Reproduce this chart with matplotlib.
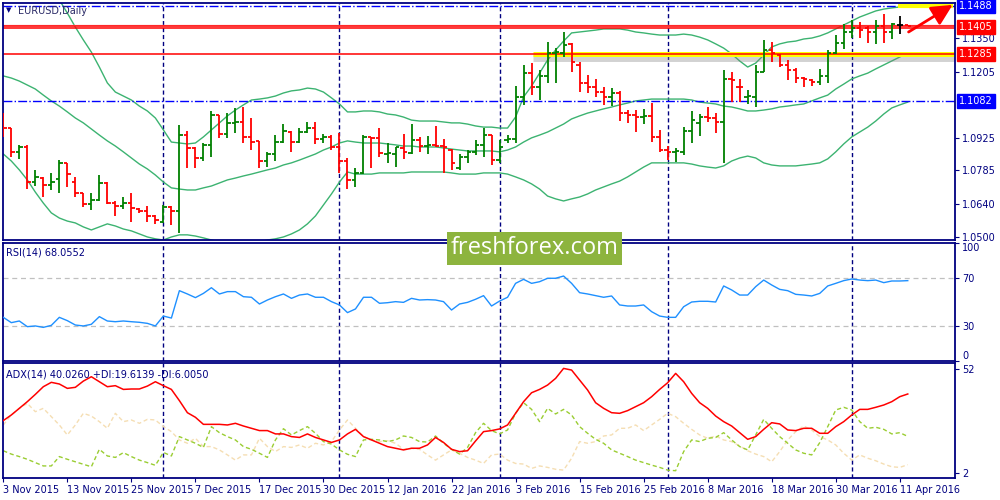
import matplotlib
matplotlib.use('Agg')
import matplotlib.pyplot as plt
import matplotlib.patches as patches
import matplotlib.transforms as mtransforms
import numpy as np
import pandas as pd

NAVY = '#000080'
GREEN = '#008000'
RED = '#ff0000'
BB = '#3cb371'

# daily bars, 3 Nov 2015 .. 12 Apr 2016 (no bars on 25 Dec and 1 Jan)
dates = [d for d in pd.bdate_range('2015-11-03', '2016-04-12')
         if d.strftime('%m-%d') not in ('12-25', '01-01')]

opens = [
    1.1015, 1.0965, 1.0865, 1.0887, 1.0737, 1.0751, 1.0723, 1.0747, 1.0815, 1.0737,
    1.0687, 1.0641, 1.0658, 1.0733, 1.0644, 1.0633, 1.0644, 1.0620, 1.0609, 1.0590,
    1.0566, 1.0630, 1.0613, 1.0936, 1.0879, 1.0837, 1.0894, 1.1022, 1.0941, 1.0986,
    1.0994, 1.0929, 1.0911, 1.0825, 1.0854, 1.0908, 1.0951, 1.0908, 1.0948, 1.0968,
    1.0919, 1.0929, 1.0887, 1.0827, 1.0744, 1.0773, 1.0929, 1.0922, 1.0855, 1.0855,
    1.0879, 1.0861, 1.0915, 1.0889, 1.0894, 1.0889, 1.0872, 1.0794, 1.0844, 1.0865,
    1.0894, 1.0936, 1.0830, 1.0915, 1.0918, 1.1100, 1.1203, 1.1143, 1.1189, 1.1286,
    1.1286, 1.1324, 1.1236, 1.1158, 1.1140, 1.1122, 1.1100, 1.1118, 1.1029, 1.1022,
    1.1015, 1.1018, 1.0929, 1.0872, 1.0865, 1.0865, 1.0954, 1.0986, 1.1015, 1.1011,
    1.0994, 1.1175, 1.1143, 1.1100, 1.1100, 1.1207, 1.1300, 1.1279, 1.1236, 1.1215,
    1.1179, 1.1172, 1.1165, 1.1189, 1.1286, 1.1331, 1.1379, 1.1393, 1.1393, 1.1379,
    1.1403, 1.1379, 1.1407, 1.1407]
highs = [
    1.1029, 1.0967, 1.0894, 1.0894, 1.0787, 1.0758, 1.0773, 1.0830, 1.0815, 1.0758,
    1.0690, 1.0690, 1.0763, 1.0737, 1.0654, 1.0670, 1.0690, 1.0623, 1.0633, 1.0594,
    1.0637, 1.0633, 1.0979, 1.0954, 1.0884, 1.0901, 1.1039, 1.1022, 1.1029, 1.1050,
    1.1058, 1.1008, 1.0911, 1.0865, 1.0936, 1.0984, 1.0955, 1.0968, 1.0991, 1.0991,
    1.0939, 1.0936, 1.0944, 1.0837, 1.0794, 1.0936, 1.0929, 1.0965, 1.0901, 1.0887,
    1.0939, 1.0984, 1.0927, 1.0934, 1.0975, 1.0918, 1.0875, 1.0855, 1.0872, 1.0915,
    1.0968, 1.0936, 1.0915, 1.0936, 1.1146, 1.1236, 1.1246, 1.1215, 1.1333, 1.1307,
    1.1376, 1.1329, 1.1247, 1.1193, 1.1175, 1.1143, 1.1136, 1.1125, 1.1043, 1.1043,
    1.1046, 1.1072, 1.0958, 1.0889, 1.0879, 1.0972, 1.1039, 1.1025, 1.1055, 1.1032,
    1.1215, 1.1207, 1.1176, 1.1129, 1.1236, 1.1343, 1.1336, 1.1283, 1.1257, 1.1222,
    1.1183, 1.1176, 1.1219, 1.1300, 1.1364, 1.1411, 1.1428, 1.1421, 1.1403, 1.1428,
    1.1454, 1.1414, 1.1447, 1.1408]
lows = [
    1.0929, 1.0844, 1.0832, 1.0704, 1.0716, 1.0670, 1.0701, 1.0687, 1.0713, 1.0670,
    1.0627, 1.0616, 1.0654, 1.0641, 1.0590, 1.0619, 1.0566, 1.0601, 1.0566, 1.0556,
    1.0561, 1.0551, 1.0519, 1.0794, 1.0794, 1.0827, 1.0844, 1.0922, 1.0922, 1.0944,
    1.0901, 1.0872, 1.0797, 1.0801, 1.0825, 1.0901, 1.0865, 1.0901, 1.0944, 1.0897,
    1.0901, 1.0872, 1.0775, 1.0705, 1.0713, 1.0770, 1.0797, 1.0844, 1.0815, 1.0801,
    1.0832, 1.0854, 1.0865, 1.0855, 1.0887, 1.0775, 1.0787, 1.0787, 1.0815, 1.0851,
    1.0844, 1.0808, 1.0818, 1.0901, 1.0901, 1.1065, 1.1108, 1.1086, 1.1158, 1.1158,
    1.1269, 1.1207, 1.1122, 1.1115, 1.1100, 1.1065, 1.1061, 1.0998, 1.0986, 1.0951,
    1.0982, 1.0908, 1.0865, 1.0830, 1.0822, 1.0851, 1.0901, 1.0934, 1.0994, 1.0944,
    1.0818, 1.1079, 1.1079, 1.1069, 1.1055, 1.1207, 1.1250, 1.1229, 1.1172, 1.1158,
    1.1140, 1.1148, 1.1150, 1.1160, 1.1283, 1.1303, 1.1350, 1.1350, 1.1331, 1.1326,
    1.1331, 1.1346, 1.1367, 1.1403]
closes = [
    1.0965, 1.0865, 1.0887, 1.0737, 1.0758, 1.0723, 1.0737, 1.0815, 1.0770, 1.0687,
    1.0641, 1.0658, 1.0733, 1.0644, 1.0633, 1.0644, 1.0623, 1.0609, 1.0590, 1.0573,
    1.0630, 1.0609, 1.0936, 1.0879, 1.0837, 1.0894, 1.1022, 1.0941, 1.0986, 1.0994,
    1.0929, 1.0908, 1.0825, 1.0854, 1.0908, 1.0955, 1.0908, 1.0948, 1.0968, 1.0919,
    1.0929, 1.0887, 1.0827, 1.0744, 1.0773, 1.0929, 1.0922, 1.0858, 1.0861, 1.0887,
    1.0865, 1.0915, 1.0889, 1.0894, 1.0889, 1.0887, 1.0815, 1.0844, 1.0865, 1.0894,
    1.0936, 1.0830, 1.0887, 1.0921, 1.1100, 1.1203, 1.1143, 1.1189, 1.1289, 1.1292,
    1.1321, 1.1250, 1.1158, 1.1140, 1.1122, 1.1100, 1.1118, 1.1029, 1.1022, 1.1015,
    1.1018, 1.0929, 1.0872, 1.0865, 1.0869, 1.0954, 1.1001, 1.1015, 1.1011, 1.0994,
    1.1175, 1.1172, 1.1140, 1.1103, 1.1207, 1.1300, 1.1286, 1.1236, 1.1215, 1.1179,
    1.1176, 1.1165, 1.1189, 1.1286, 1.1331, 1.1379, 1.1393, 1.1386, 1.1379, 1.1403,
    1.1379, 1.1411, 1.1407, 1.1404]

# Bollinger bands (20)
bb_upper = [
    1.1642, 1.1625, 1.1608, 1.1591, 1.1574, 1.1557, 1.1535, 1.1514, 1.1458, 1.1398,
    1.1343, 1.1291, 1.1227, 1.1159, 1.1120, 1.1103, 1.1086, 1.1060, 1.1039, 1.1009,
    1.0958, 1.0906, 1.0902, 1.0898, 1.0902, 1.0928, 1.0958, 1.0988, 1.1018, 1.1043,
    1.1065, 1.1086, 1.1090, 1.1095, 1.1103, 1.1116, 1.1125, 1.1129, 1.1137, 1.1133,
    1.1120, 1.1095, 1.1069, 1.1035, 1.1035, 1.1039, 1.1039, 1.1035, 1.1026, 1.1022,
    1.1013, 1.1000, 1.0996, 1.0996, 1.0996, 1.0992, 1.0988, 1.0988, 1.0983, 1.0975,
    1.0970, 1.0970, 1.0966, 1.0966, 1.1013, 1.1099, 1.1146, 1.1201, 1.1257, 1.1300,
    1.1338, 1.1373, 1.1377, 1.1381, 1.1385, 1.1390, 1.1390, 1.1390, 1.1385, 1.1377,
    1.1373, 1.1368, 1.1364, 1.1364, 1.1364, 1.1368, 1.1364, 1.1355, 1.1343, 1.1326,
    1.1308, 1.1283, 1.1253, 1.1227, 1.1244, 1.1278, 1.1313, 1.1326, 1.1334, 1.1338,
    1.1347, 1.1351, 1.1360, 1.1373, 1.1390, 1.1407, 1.1424, 1.1441, 1.1454, 1.1467,
    1.1475, 1.1480, 1.1484, 1.1492]
bb_middle = [
    1.1189, 1.1180, 1.1167, 1.1150, 1.1133, 1.1107, 1.1082, 1.1060, 1.1035, 1.1009,
    1.0988, 1.0962, 1.0936, 1.0911, 1.0889, 1.0864, 1.0838, 1.0812, 1.0791, 1.0765,
    1.0735, 1.0710, 1.0705, 1.0701, 1.0701, 1.0710, 1.0718, 1.0731, 1.0744, 1.0752,
    1.0761, 1.0769, 1.0778, 1.0787, 1.0795, 1.0808, 1.0817, 1.0829, 1.0842, 1.0855,
    1.0872, 1.0885, 1.0902, 1.0911, 1.0906, 1.0902, 1.0902, 1.0902, 1.0898, 1.0894,
    1.0889, 1.0889, 1.0885, 1.0885, 1.0885, 1.0881, 1.0876, 1.0872, 1.0868, 1.0868,
    1.0868, 1.0868, 1.0864, 1.0872, 1.0885, 1.0906, 1.0924, 1.0936, 1.0949, 1.0966,
    1.0983, 1.1005, 1.1018, 1.1030, 1.1039, 1.1048, 1.1056, 1.1065, 1.1073, 1.1082,
    1.1086, 1.1090, 1.1090, 1.1090, 1.1090, 1.1090, 1.1086, 1.1077, 1.1073, 1.1069,
    1.1060, 1.1056, 1.1048, 1.1039, 1.1039, 1.1043, 1.1048, 1.1056, 1.1060, 1.1065,
    1.1069, 1.1082, 1.1095, 1.1107, 1.1133, 1.1154, 1.1176, 1.1189, 1.1201, 1.1219,
    1.1236, 1.1253, 1.1270, 1.1287]
bb_lower = [
    1.0855, 1.0825, 1.0787, 1.0744, 1.0692, 1.0645, 1.0603, 1.0581, 1.0568, 1.0560,
    1.0543, 1.0530, 1.0543, 1.0556, 1.0547, 1.0534, 1.0526, 1.0513, 1.0500, 1.0492,
    1.0487, 1.0500, 1.0509, 1.0509, 1.0504, 1.0496, 1.0487, 1.0479, 1.0470, 1.0466,
    1.0466, 1.0470, 1.0479, 1.0487, 1.0492, 1.0500, 1.0513, 1.0530, 1.0556, 1.0590,
    1.0637, 1.0684, 1.0735, 1.0778, 1.0769, 1.0769, 1.0769, 1.0774, 1.0774, 1.0774,
    1.0774, 1.0778, 1.0778, 1.0778, 1.0778, 1.0778, 1.0774, 1.0769, 1.0769, 1.0769,
    1.0774, 1.0774, 1.0774, 1.0769, 1.0757, 1.0744, 1.0727, 1.0705, 1.0675, 1.0663,
    1.0654, 1.0663, 1.0671, 1.0684, 1.0701, 1.0714, 1.0727, 1.0739, 1.0757, 1.0778,
    1.0799, 1.0817, 1.0817, 1.0817, 1.0817, 1.0817, 1.0812, 1.0804, 1.0799, 1.0795,
    1.0804, 1.0825, 1.0838, 1.0846, 1.0838, 1.0817, 1.0808, 1.0804, 1.0804, 1.0804,
    1.0808, 1.0812, 1.0817, 1.0834, 1.0864, 1.0898, 1.0928, 1.0949, 1.0970, 1.0996,
    1.1026, 1.1052, 1.1065, 1.1077]

rsi = [
    37.0, 32.5, 33.9, 29.1, 29.7, 28.5, 30.2, 37.0, 34.2, 30.5,
    29.7, 31.1, 37.6, 33.9, 33.3, 33.9, 33.3, 32.8, 31.9, 29.7,
    38.1, 36.4, 59.6, 56.8, 53.7, 57.3, 62.1, 56.8, 58.8, 58.8,
    54.5, 54.0, 48.3, 51.7, 54.5, 56.8, 53.1, 55.9, 56.8, 54.0,
    54.0, 50.3, 47.5, 41.0, 44.1, 54.0, 54.0, 48.9, 49.4, 50.3,
    49.7, 53.1, 51.7, 52.0, 51.7, 50.3, 43.2, 48.3, 49.7, 52.3,
    55.4, 46.6, 50.8, 54.0, 65.8, 69.2, 65.8, 67.2, 70.1, 70.1,
    72.0, 65.8, 57.9, 56.8, 55.4, 54.0, 55.1, 47.5, 46.6, 46.6,
    47.5, 41.8, 38.1, 37.0, 37.0, 46.0, 50.0, 50.6, 50.6, 50.0,
    63.6, 60.2, 55.9, 55.9, 63.0, 68.6, 64.4, 60.7, 59.6, 56.5,
    55.9, 55.1, 57.3, 63.6, 65.8, 68.1, 69.5, 68.6, 68.1, 68.6,
    66.4, 67.8, 67.8, 68.1]

adx = [
    27.2, 29.9, 33.1, 36.3, 39.8, 43.5, 45.6, 44.8, 42.7, 43.2,
    46.2, 48.3, 45.9, 43.5, 44.0, 42.2, 42.4, 42.4, 43.8, 45.9,
    44.0, 42.2, 36.8, 31.0, 28.8, 25.4, 25.4, 25.4, 25.1, 25.9,
    24.6, 23.5, 22.4, 22.4, 20.8, 20.8, 19.5, 19.1, 20.8, 19.1,
    17.9, 16.7, 17.9, 20.8, 23.0, 19.5, 17.9, 16.3, 14.7, 13.9,
    13.1, 13.9, 13.9, 15.5, 19.1, 16.7, 13.4, 12.3, 12.7, 17.4,
    21.9, 22.4, 23.2, 25.1, 30.7, 36.3, 40.6, 42.2, 44.3, 47.5,
    52.3, 51.5, 46.7, 41.9, 35.8, 33.1, 31.0, 30.7, 32.0, 33.9,
    35.8, 38.7, 42.2, 45.4, 49.9, 45.9, 40.3, 35.8, 33.1, 29.4,
    26.7, 24.6, 21.4, 18.2, 19.5, 23.0, 26.2, 25.6, 22.7, 22.4,
    23.5, 23.5, 21.1, 21.1, 24.3, 26.7, 29.9, 32.6, 32.6, 33.6,
    34.7, 36.3, 38.7, 40.0]
plus_di = [
    12.7, 11.1, 9.9, 8.6, 7.0, 5.4, 5.4, 9.9, 8.6, 7.4,
    6.2, 5.0, 13.4, 10.2, 9.5, 11.8, 9.9, 8.2, 7.0, 5.7,
    11.9, 10.2, 19.5, 17.9, 16.3, 14.3, 24.3, 21.4, 19.5, 17.9,
    14.7, 13.4, 11.5, 9.5, 17.9, 23.3, 20.3, 22.4, 24.3, 21.1,
    17.1, 15.9, 13.1, 11.0, 9.9, 17.9, 18.2, 17.9, 17.1, 17.9,
    19.8, 19.1, 17.1, 16.9, 19.8, 16.3, 13.4, 11.1, 14.3, 21.4,
    25.9, 22.4, 20.8, 22.7, 30.7, 35.8, 32.6, 26.7, 33.1, 30.4,
    32.6, 29.9, 24.3, 21.1, 18.2, 16.3, 13.1, 11.5, 9.9, 8.2,
    7.0, 5.8, 4.7, 3.4, 3.1, 12.3, 17.9, 17.1, 18.7, 19.1,
    21.4, 17.9, 14.7, 13.1, 20.3, 27.8, 23.5, 19.5, 16.3, 13.1,
    11.5, 10.7, 16.6, 24.3, 32.3, 33.6, 32.3, 26.7, 23.5, 24.0,
    23.0, 20.8, 21.4, 19.6]
minus_di = [
    25.1, 29.9, 33.1, 35.5, 31.5, 33.1, 29.1, 25.1, 20.3, 25.1,
    30.7, 29.4, 26.7, 23.5, 30.7, 26.7, 27.5, 25.9, 27.8, 27.5,
    24.3, 21.9, 17.9, 16.3, 18.7, 14.7, 14.7, 13.1, 10.7, 8.2,
    10.7, 10.7, 18.7, 14.7, 12.3, 14.7, 14.3, 15.5, 13.9, 16.3,
    15.5, 17.1, 22.7, 27.5, 23.5, 19.5, 17.9, 17.1, 17.5, 16.3,
    13.4, 13.9, 13.4, 10.7, 8.2, 10.7, 13.1, 11.5, 9.5, 8.2,
    6.6, 10.7, 11.1, 8.2, 6.6, 6.3, 4.2, 5.4, 4.7, 3.8,
    3.4, 9.1, 17.1, 16.3, 17.1, 19.8, 20.3, 23.5, 23.5, 25.1,
    22.4, 25.1, 27.8, 30.7, 29.1, 25.9, 23.0, 20.3, 18.7, 19.8,
    17.9, 17.1, 15.0, 12.7, 11.1, 9.9, 7.4, 12.3, 17.9, 21.9,
    24.6, 22.7, 19.5, 17.9, 15.5, 11.5, 8.2, 10.7, 9.1, 7.9,
    6.3, 5.0, 4.7, 6.0]

# 1.1065 sits under the 1.1082 box in the reference, left out here
price_ticks = [1.1350, 1.1205, 1.0925, 1.0785, 1.0640, 1.0500]
# horizontal objects drawn by the analyst
level_top = 1.1488
level_res = 1.1397
level_sup = 1.1283
level_low = 1.1082

x = np.arange(len(closes))
o, h, l, c = map(np.array, (opens, highs, lows, closes))
month_starts = [i for i in range(1, len(dates)) if dates[i].month != dates[i - 1].month]

fig = plt.figure(figsize=(10, 5), dpi=100)
ax = fig.add_axes([0.0025, 0.52, 0.9525, 0.474])
ax_rsi = fig.add_axes([0.0025, 0.278, 0.9525, 0.236], sharex=ax)
ax_adx = fig.add_axes([0.0025, 0.044, 0.9525, 0.23], sharex=ax)

for a in (ax, ax_rsi, ax_adx):
    for s in a.spines.values():
        s.set_color(NAVY)
        s.set_linewidth(1.3)
    a.yaxis.tick_right()
    a.tick_params(axis='y', colors=NAVY, labelsize=7, length=3, pad=2)
    for m in month_starts:
        a.axvline(m, color=NAVY, ls=(0, (3, 2)), lw=1, zorder=1)
ax.set_xlim(-0.1, 118.9)

# --- price panel
ax.set_ylim(1.0487, 1.1501)
ax.plot(x, bb_upper, color=BB, lw=1, zorder=2)
ax.plot(x, bb_middle, color=BB, lw=1, zorder=2)
ax.plot(x, bb_lower, color=BB, lw=1, zorder=2)

colors = np.where(c > o, GREEN, np.where(c < o, RED, 'black'))
ax.vlines(x, l, h, colors=colors, lw=1.3, zorder=3)
ax.hlines(o, x - 0.4, x, colors=colors, lw=1.3, zorder=3)
ax.hlines(c, x, x + 0.4, colors=colors, lw=1.3, zorder=3)

ax.axhline(level_top, color='#0000ff', ls='-.', lw=1, zorder=2)
ax.axhline(level_low, color='#0000ff', ls='-.', lw=1, zorder=2)
ax.axhline(level_res + 0.0008, color='#ffb0b0', lw=1, zorder=2)
ax.axhline(level_res + 0.0004, color=RED, lw=1.1, zorder=2)
ax.axhline(level_res - 0.0004, color=RED, lw=1.1, zorder=2)

shadow = mtransforms.offset_copy(ax.transData, fig=fig, y=-3, units='points')
ax.plot([66.2, 118.9], [level_sup, level_sup], color='gray', lw=5, alpha=0.35,
        transform=shadow, zorder=2, solid_capstyle='butt')
ax.plot([66.2, 118.9], [level_sup, level_sup], color='#ffff00', lw=3.6, zorder=2,
        solid_capstyle='butt')
ax.axhline(level_sup, color=RED, lw=1.1, zorder=2)
ax.plot([111.8, 118.6], [level_top + 0.0002, level_top + 0.0002], color='#ffff00',
        lw=3, zorder=2, solid_capstyle='butt')
ax.annotate('', xy=(118.6, 1.1493), xytext=(113.1, 1.1377),
            arrowprops=dict(arrowstyle='-|>,head_length=0.9,head_width=0.45',
                            color=RED, lw=2, shrinkA=0, shrinkB=0,
                            mutation_scale=14), zorder=4)

ax.set_yticks(price_ticks)
ax.set_yticklabels([f'{p:.4f}' for p in price_ticks])
ytrans = ax.get_yaxis_transform()
for val, txt, col in [(level_top, '1.1488', '#0000ff'), (level_res, '1.1405', RED),
                      (level_sup, '1.1285', RED), (level_low, '1.1082', '#0000ff')]:
    ax.text(1.004, val, txt, transform=ytrans, color='white', fontsize=7,
            va='center', ha='left', clip_on=False, zorder=10,
            bbox=dict(boxstyle='square,pad=0.22', fc=col, ec=col))

ax.text(0.004, 0.968, '\u25bc', transform=ax.transAxes, fontsize=5, color=NAVY,
        va='center')
ax.text(0.016, 0.968, 'EURUSD,Daily', transform=ax.transAxes, fontsize=7,
        color='#2a2a66', va='center')
ax.tick_params(axis='x', bottom=False, labelbottom=False)

# --- RSI panel
ax_rsi.set_ylim(0, 100)
ax_rsi.axhline(70, color='#c0c0c0', ls=(0, (4, 3)), lw=0.9)
ax_rsi.axhline(30, color='#c0c0c0', ls=(0, (4, 3)), lw=0.9)
ax_rsi.plot(x, rsi, color='#1e90ff', lw=1, zorder=3)
ax_rsi.set_yticks([100, 70, 30, 0])
ax_rsi.set_yticklabels(['100', '70', '30', '0'])
labs = ax_rsi.get_yticklabels()
labs[0].set_va('top')
labs[-1].set_va('bottom')
ax_rsi.text(0.004, 0.92, 'RSI(14) 68.0552', transform=ax_rsi.transAxes,
            fontsize=7, color=NAVY, va='center')
ax_rsi.tick_params(axis='x', bottom=False, labelbottom=False)

# --- ADX panel
ax_adx.set_ylim(-0.4, 54.9)
ax_adx.plot(x, minus_di, color='#f5deb3', lw=1, ls=(0, (3, 2)), zorder=2)
ax_adx.plot(x, plus_di, color='#9acd32', lw=1, ls=(0, (3, 2)), zorder=2)
ax_adx.plot(x, adx, color=RED, lw=1.1, zorder=3)
ax_adx.set_yticks([52, 2])
ax_adx.set_yticklabels(['52', '2'])
ax_adx.text(0.004, 0.9, 'ADX(14) 40.0260 +DI:19.6139 -DI:6.0050',
            transform=ax_adx.transAxes, fontsize=7, color=NAVY, va='center')
ticks = x[::8]
ax_adx.set_xticks(ticks)
ax_adx.set_xticklabels([f'{dates[i].day} {dates[i]:%b %Y}' for i in ticks])
ax_adx.tick_params(axis='x', colors=NAVY, labelsize=7, length=3, pad=2)
for lab in ax_adx.get_xticklabels():
    lab.set_ha('left')

# watermark
fig.add_artist(patches.Rectangle((0.447, 0.47), 0.175, 0.066, transform=fig.transFigure,
                                 fc='#8db43e', ec='none', zorder=5))
fig.text(0.5345, 0.503, 'freshforex.com', color='white', fontsize=17,
         family='Open Sans', ha='center', va='center', zorder=6)

fig.savefig('out.png', dpi=100)
